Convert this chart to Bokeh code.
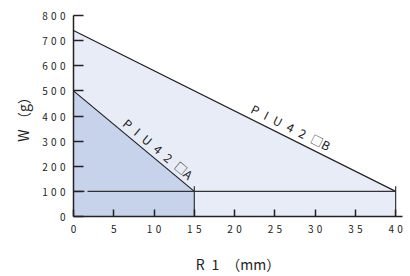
import math
from bokeh.plotting import figure
from bokeh.models import Range1d, FixedTicker
from bokeh.core.properties import value
from bokeh.embed import file_html
from bokeh.resources import INLINE

# data
r1_b = [0, 40]
w_b = [740, 100]
r1_a = [0, 15]
w_a = [500, 100]
SEP = "\u2002\u200a"
label_a = SEP.join(["P", "I", "U", "4", "2", "□A"])
label_b = SEP.join(["P", "I", "U", "4", "2", "□B"])
x_ticks = [0, 5, 10, 15, 20, 25, 30, 35, 40]
y_ticks = [0, 100, 200, 300, 400, 500, 600, 700, 800]
x_title = "R\u20021\u2002（mm）"
y_title = "W\u2005（g）"

FONT = "Noto Sans CJK JP"
X_END = 40.85
Y_END = 800
W, H = 410, 276
ML, MR, MT, MB = 73, 8, 15, 59
FW, FH = W - ML - MR, H - MT - MB

p = figure(output_backend="svg", toolbar_location=None, width=W, height=H,
           x_range=Range1d(0, X_END), y_range=Range1d(0, Y_END),
           min_border_left=ML, min_border_right=MR, min_border_top=MT, min_border_bottom=MB)
p.outline_line_color = None
p.grid.grid_line_color = None
p.background_fill_color = "white"

light = "#e8ecf6"
dark = "#c7d3eb"

# fills
p.patch([r1_b[0]] + r1_b + [r1_b[-1]], [0] + w_b + [0], fill_color=light, line_color=None)
p.patch([r1_a[0]] + r1_a + [r1_a[-1]], [0] + w_a + [0], fill_color=dark, line_color=None)

# limit lines
p.line(r1_b, w_b, line_color="#222222", line_width=1.2)
p.line(r1_a, w_a, line_color="#222222", line_width=1.2)

# horizontal at minimum load
p.line([0, r1_b[-1]], [w_b[-1], w_b[-1]], line_color="#333333", line_width=1.2, line_dash="11 3 400")
# verticals at max R1
for xs, ws in ((r1_a, w_a), (r1_b, w_b)):
    p.segment(x0=[xs[-1]], y0=[0], x1=[xs[-1]], y1=[ws[-1] + 20], line_color="#333333", line_width=1.2)

# labels along lines
sx = FW / X_END
sy = FH / Y_END
def put_label(xs, ws, txt, frac, off_px):
    ang = math.atan2((ws[1] - ws[0]) * sy, (xs[1] - xs[0]) * sx)
    xm = xs[0] + frac * (xs[1] - xs[0])
    ym = ws[0] + frac * (ws[1] - ws[0])
    nx, ny = -math.sin(ang), math.cos(ang)
    xm += nx * off_px / sx
    ym += ny * off_px / sy
    p.text(x=[xm], y=[ym], text=[txt], angle=ang, text_align="center", text_baseline="middle",
           text_font=value(FONT), text_font_size="12px", text_color="#222222")

put_label(r1_a, w_a, label_a, 0.65, 10)
put_label(r1_b, w_b, label_b, 0.66, 11)

# axes
for ax in (p.xaxis, p.yaxis):
    ax.axis_line_color = "#222222"
    ax.axis_line_width = 1.5
    ax.major_tick_line_color = "#222222"
    ax.major_tick_line_width = 1.5
    ax.major_tick_out = 0
    ax.minor_tick_line_color = None
    ax.major_label_text_font = FONT
    ax.major_label_text_font_size = "10px"
    ax.major_label_text_color = "#222222"
    ax.axis_label_text_font = FONT
    ax.axis_label_text_font_size = "14px"
    ax.axis_label_text_font_style = "normal"
    ax.axis_label_text_color = "#222222"

p.xaxis.ticker = FixedTicker(ticks=x_ticks)
p.yaxis.ticker = FixedTicker(ticks=y_ticks)
p.xaxis.major_label_overrides = {t: "\u2004".join(str(t)) for t in x_ticks}
p.yaxis.major_label_overrides = {t: "\u2004".join(str(t)) for t in y_ticks}
p.xaxis.major_tick_in = 7
p.yaxis.major_tick_in = 10
p.xaxis.major_label_standoff = 4
p.yaxis.major_label_standoff = 8
p.xaxis.axis_label = x_title
p.yaxis.axis_label = y_title
p.xaxis.axis_label_standoff = 15
p.yaxis.axis_label_standoff = 6

open("out.html", "w").write(file_html(p, INLINE))
